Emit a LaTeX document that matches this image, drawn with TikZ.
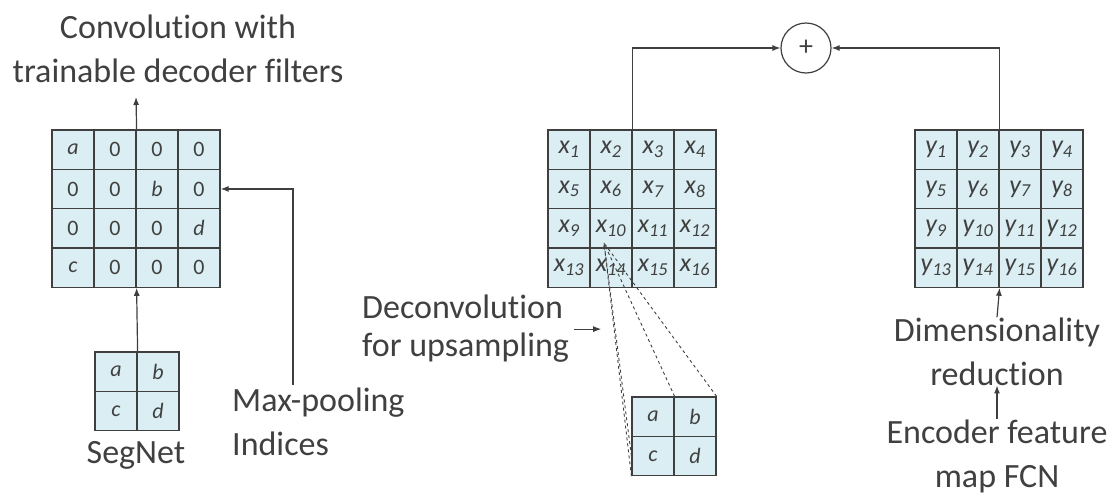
\documentclass[tikz,border=0pt]{standalone}
\usepackage{fontspec}
\setmainfont{Carlito}[Ligatures=NoCommon]
\usepackage{tikz}
\usetikzlibrary{arrows.meta}
\definecolor{cellblue}{HTML}{DAEEF3}
\definecolor{linegray}{HTML}{3F3F3F}
\definecolor{txtgray}{HTML}{404040}
\tikzstyle{cell}=[rectangle, draw=linegray, fill=cellblue, line width=1.2pt,
                  minimum width=42pt, minimum height=39.3pt, inner sep=0pt,
                  font=\fontsize{22}{24}\selectfont, text=txtgray]
\tikzstyle{fcncell}=[cell, font=\fontsize{26}{28}\selectfont]
\tikzstyle{lbl}=[align=center, inner sep=0pt, text=txtgray,
                 font=\fontsize{34}{44}\selectfont]
\tikzstyle{conn}=[-{Latex[length=8pt,width=6pt]}, draw=linegray, line width=1.2pt]
\tikzstyle{guide}=[dashed, draw=linegray, line width=0.9pt]

\begin{document}
\begin{tikzpicture}[x=1pt, y=-1pt]
      \useasboundingbox (0,0) rectangle (1113,499);
      % SegNet: unpooled map
      \foreach \lab [count=\i from 0] in {\textit{a},0,0,0,0,0,\textit{b},0,0,0,0,\textit{d},\textit{c},0,0,0}{
        \pgfmathtruncatemacro\r{\i/4}
        \pgfmathtruncatemacro\c{mod(\i,4)}
        \node[cell] (u-\r-\c) at ({73+42*\c},{149.65+39.3*\r}) {\lab};
      }
      \foreach \lab [count=\i from 0] in {\textit{a},\textit{b},\textit{c},\textit{d}}{
        \pgfmathtruncatemacro\r{\i/2}
        \pgfmathtruncatemacro\c{mod(\i,2)}
        \node[cell] (sa-\r-\c) at ({116+42*\c},{371.65+39.3*\r}) {\lab};
        \node[cell] (sb-\r-\c) at ({653+42*\c},{416.65+39.3*\r}) {\lab};
      }
      % FCN maps
      \foreach \i in {1,...,16}{
        \pgfmathtruncatemacro\r{(\i-1)/4}
        \pgfmathtruncatemacro\c{mod(\i-1,4)}
        \node[fcncell] (x-\i) at ({569+42*\c},{149.65+39.3*\r}) {\textit{x\textsubscript{\i}}};
        \node[fcncell] (y-\i) at ({936+42*\c},{149.65+39.3*\r}) {\textit{y\textsubscript{\i}}};
      }
      \node[circle, draw=linegray, line width=1.2pt, minimum size=50pt, inner sep=0pt,
            font=\fontsize{28}{30}\selectfont, text=txtgray] (plus) at (806,48) {+};

      % labels (base = last line)
      \node[lbl, anchor=base] (conv) at (178,82) {Convolution with\\trainable decoder filters};
      \node[lbl, anchor=base] (segnet) at (136,463) {SegNet};
      \node[lbl, anchor=base west, align=left] (maxpool) at (232,455) {Max-pooling\\Indices};
      \node[lbl, anchor=base west, align=left, font=\fontsize{34}{38}\selectfont]
        (deconv) at (362,356) {Deconvolution\\for upsampling};
      \node[lbl, anchor=base] (dimred) at (997,385) {Dimensionality\\reduction};
      \node[lbl, anchor=base] (encoder) at (997,487) {Encoder feature\\map FCN};

      \coordinate (convend) at (136,97);
      \coordinate (mp) at (293,385);
      \coordinate (deconvstart) at ([xshift=5pt,yshift=-1pt]deconv.east);
      \coordinate (deconvend) at ([xshift=27pt]deconvstart);
      \coordinate (apex) at (604,243);

      % connectors
      \draw[conn] (u-0-1.north east) -- (convend);
      \draw[conn] (sa-0-0.north east) -- (u-3-1.south east);
      \draw[conn] (mp) |- (u-1-3.east);
      \draw[conn] (x-2.north east) |- (plus.west);
      \draw[conn] (y-2.north east) |- (plus.east);
      \draw[conn] (dimred.north) -- (y-14.south east);
      \draw[conn] (encoder.north) -- (dimred.south);
      \draw[conn, line width=1pt] (deconvstart) -- (deconvend);
      \draw[guide] (sb-0-1.north east) -- (apex);
      \draw[guide] (sb-0-0.north east) -- (apex);
      \draw[guide] (sb-1-0.west) -- (apex);
      \draw[guide, -{Latex[length=6pt,width=4pt]}] (sb-1-0.south west) -- (apex);
    \end{tikzpicture}
\end{document}
